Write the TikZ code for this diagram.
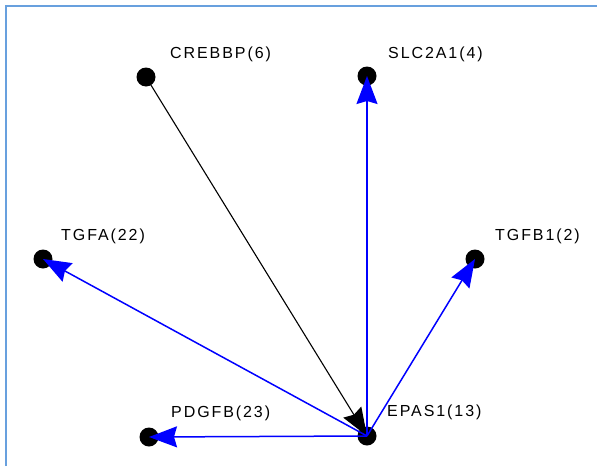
\documentclass[tikz,border=0pt]{standalone}
\usepackage{fontspec}
\setmainfont{Liberation Sans}[LetterSpace=12]
\usetikzlibrary{arrows.meta}
\definecolor{framecol}{RGB}{104,160,222}
\definecolor{edgeblue}{RGB}{0,0,255}
\tikzset{
  gene/.style={circle, fill=black, inner sep=0pt, minimum size=19pt},
  genelabel/.style={anchor=base west, inner sep=0pt, font=\fontsize{16}{16}\selectfont},
  tip/.style={-{Stealth[length=28pt, width=21pt, inset=3pt]}},
  activates/.style={tip, edgeblue, line width=1.5pt},
  binds/.style={tip, black, line width=1.1pt},
}
\begin{document}
\begin{tikzpicture}[x=1pt, y=-1pt]
  \useasboundingbox (0,0) rectangle (597,466);
  % panel frame (top and left edges)
  \draw[framecol, line width=2pt] (5.5,466) -- (5.5,6) -- (597,6);

  % genes
  \node[gene] (crebbp) at (146,77) {};
  \node[gene] (slc) at (367,76) {};
  \node[gene] (tgfa) at (43,259) {};
  \node[gene] (tgfb) at (475,259) {};
  \node[gene] (pdgfb) at (149,437) {};
  \node[gene] (epas) at (367,436) {};

  % gene labels
  \node[genelabel] (lcrebbp) at (170,58) {CREBBP(6)};
  \node[genelabel] (lslc) at (388,58) {SLC2A1(4)};
  \node[genelabel] (ltgfa) at (61,240) {TGFA(22)};
  \node[genelabel] (ltgfb) at (495,240) {TGFB1(2)};
  \node[genelabel] (lpdgfb) at (171,417) {PDGFB(23)};
  \node[genelabel] (lepas) at (387,416) {EPAS1(13)};

  % interactions
  \draw[binds] (crebbp.center) -- (epas.center);
  \draw[activates] (epas.center) -- (slc.center);
  \draw[activates] (epas.center) -- (tgfa.center);
  \draw[activates] (epas.center) -- (tgfb.center);
  \draw[activates] (epas.center) -- (pdgfb.center);
\end{tikzpicture}
\end{document}
